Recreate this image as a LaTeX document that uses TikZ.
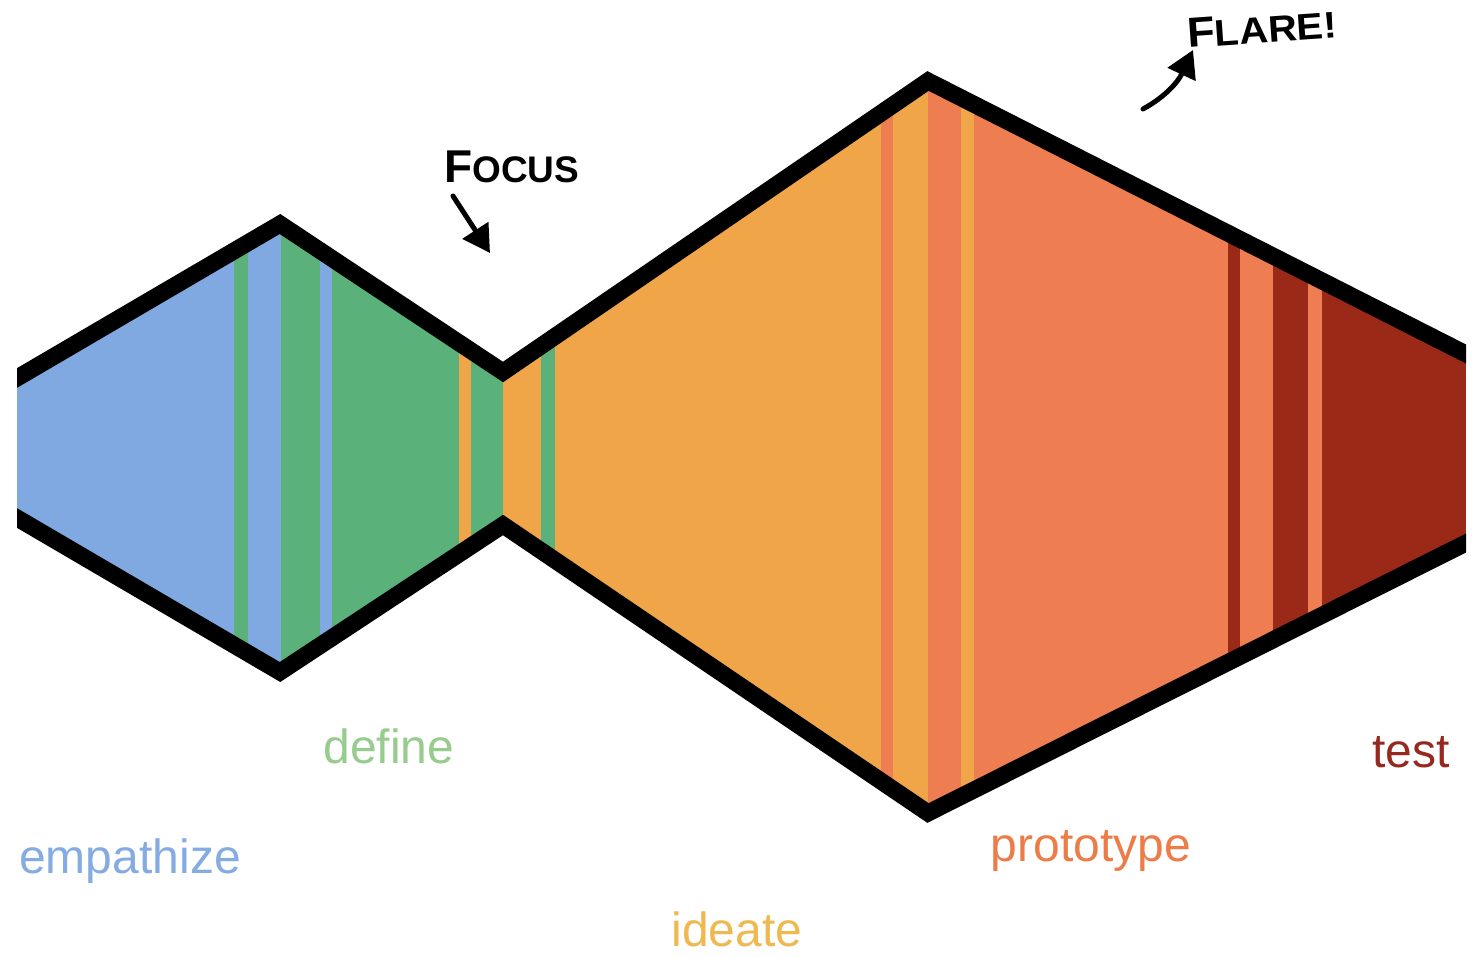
\documentclass[tikz,border=0pt]{standalone}
\usepackage{fontspec}
\setmainfont{Liberation Sans}
\usetikzlibrary{arrows.meta}
\definecolor{cblue}{HTML}{80A9E1}
\definecolor{cgreen}{HTML}{5AB27A}
\definecolor{corange}{HTML}{F0A548}
\definecolor{ccoral}{HTML}{EF7D52}
\definecolor{cdred}{HTML}{9B2918}
\definecolor{tblue}{HTML}{85ACE2}
\definecolor{tgreen}{HTML}{98CB8E}
\definecolor{torange}{HTML}{F0B850}
\definecolor{tcoral}{HTML}{EC7C48}
\definecolor{tdred}{HTML}{96281E}
\begin{document}
\begin{tikzpicture}[x=1pt,y=-1pt,
  outline/.style={line width=17pt, line join=miter, miter limit=10},
  lbl/.style={anchor=base, font=\fontsize{48}{52}\selectfont, inner sep=0pt},
  hand/.style={font=\bfseries, inner sep=0pt, text=black},
  handarrow/.style={line width=5pt, line cap=round, -{Triangle[length=27pt,width=30pt]}}]
\useasboundingbox (0,0) rectangle (1472,958);
\fill[white] (0,0) rectangle (1472,958);
\begin{scope}
\clip (17,378) -- (280,224) -- (503,372) -- (928,81) -- (1466,354) -- (1466,543) -- (928,813) -- (503,525) -- (280,672) -- (17,518) -- cycle;
% blue
\fill[cblue] (17,0) rectangle (234,958);
\fill[cblue] (248,0) rectangle (281,958);
\fill[cblue] (320,0) rectangle (332,958);
% green
\fill[cgreen] (234,0) rectangle (248,958);
\fill[cgreen] (281,0) rectangle (320,958);
\fill[cgreen] (332,0) rectangle (459,958);
\fill[cgreen] (471,0) rectangle (503,958);
\fill[cgreen] (541,0) rectangle (555,958);
% orange
\fill[corange] (459,0) rectangle (471,958);
\fill[corange] (503,0) rectangle (541,958);
\fill[corange] (555,0) rectangle (881,958);
\fill[corange] (893,0) rectangle (928,958);
\fill[corange] (961,0) rectangle (974,958);
% coral
\fill[ccoral] (881,0) rectangle (893,958);
\fill[ccoral] (928,0) rectangle (961,958);
\fill[ccoral] (974,0) rectangle (1228,958);
\fill[ccoral] (1240,0) rectangle (1273,958);
\fill[ccoral] (1308,0) rectangle (1322,958);
% dark red
\fill[cdred] (1228,0) rectangle (1240,958);
\fill[cdred] (1273,0) rectangle (1308,958);
\fill[cdred] (1322,0) rectangle (1466,958);
\end{scope}
\begin{scope}
\clip (17,0) rectangle (1466,958);
\draw[outline] (0,388) -- (17,378) -- (280,224) -- (503,372) -- (928,81) -- (1466,354) -- (1480,361);
\draw[outline] (0,508) -- (17,518) -- (280,672) -- (503,525) -- (928,813) -- (1466,543) -- (1480,536);
\end{scope}
% labels
\node[lbl, text=tblue] (emp) at (130,873) {empathize};
\node[lbl, text=tgreen] (def) at (389,763) {define};
\node[lbl, text=torange] (ide) at (737,946) {ideate};
\node[lbl, text=tcoral] (pro) at (1091,861) {prototype};
\node[lbl, text=tdred] (tst) at (1411,767) {test};
% hand annotations
\node[hand, anchor=base west] (focus) at (444,182) {\fontsize{46}{46}\selectfont F\fontsize{37}{37}\selectfont OCUS};
\node[hand, anchor=base west, rotate=4, xscale=1.08] (flare) at (1188,48) {\fontsize{42}{42}\selectfont F\fontsize{37}{37}\selectfont LARE!};
\coordinate (fa1) at (453,196);
\coordinate (fa2) at (490,253);
\draw[handarrow] (fa1) -- (fa2);
\coordinate (fl1) at (1143,109);
\coordinate (fl2) at (1193,50);
\draw[handarrow] (fl1) .. controls (1165,97) and (1178,82) .. (fl2);
\end{tikzpicture}
\end{document}
